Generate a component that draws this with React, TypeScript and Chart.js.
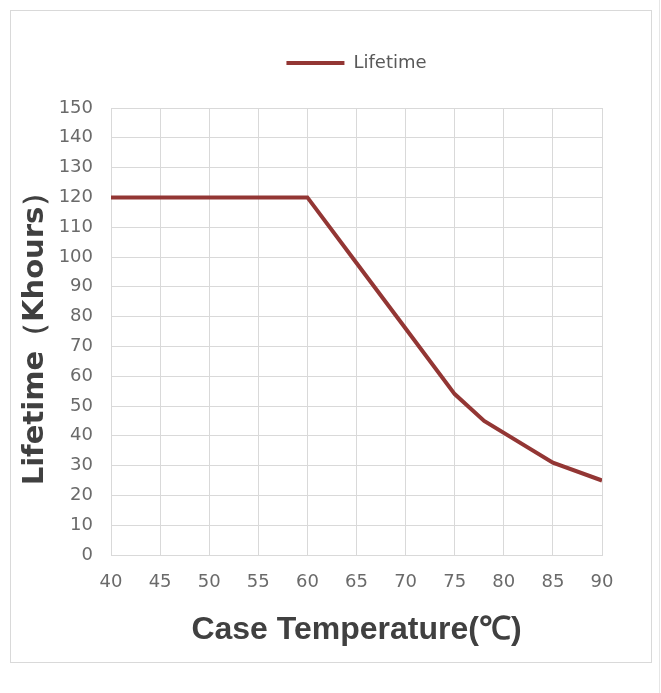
import React, { useEffect, useRef } from 'react';
import { Chart, registerables } from 'chart.js';

Chart.register(...registerables);

const temperatures = [40, 60, 65, 70, 75, 78, 85, 90];
const lifetimes = [120, 120, 98, 76, 54, 45, 31, 25];
const seriesName = 'Lifetime';
const xTitle = 'Case Temperature(℃)';
const yTitle = 'Lifetime（Khours）';
const xMin = 40;
const xMax = 90;
const xStep = 5;
const yMin = 0;
const yMax = 150;
const yStep = 10;

const LINE_COLOR = '#933634';
const GRID_COLOR = '#d9d9d9';
const TICK_COLOR = '#6a6a6a';
const TITLE_COLOR = '#404040';

export default function App() {
  const canvasRef = useRef<HTMLCanvasElement | null>(null);

  useEffect(() => {
    const canvas = canvasRef.current;
    if (!canvas) return;
    const chart = new Chart(canvas, {
      type: 'line',
      data: {
        datasets: [
          {
            label: seriesName,
            data: temperatures.map((t, i) => ({ x: t, y: lifetimes[i] })),
            borderColor: LINE_COLOR,
            backgroundColor: LINE_COLOR,
            borderWidth: 4,
            pointRadius: 0,
            tension: 0,
            fill: false,
          },
        ],
      },
      options: {
        responsive: false,
        animation: false,
        layout: { padding: { left: 0, right: 59, top: 44, bottom: 0 } },
        plugins: {
          tooltip: { enabled: false },
          legend: {
            display: true,
            position: 'top',
            fullSize: false,
            labels: {
              boxWidth: 58,
              boxHeight: 4,
              padding: 10,
              color: '#595959',
              font: { family: 'DejaVu Sans', size: 18 },
              generateLabels: () => [
                {
                  text: seriesName,
                  fillStyle: LINE_COLOR,
                  strokeStyle: LINE_COLOR,
                  lineWidth: 0,
                  hidden: false,
                  datasetIndex: 0,
                  fontColor: '#595959',
                } as any,
              ],
            },
          },
          title: {
            display: true,
            text: '',
            position: 'top',
            fullSize: false,
            weight: 500,
            font: { size: 10 },
            padding: { top: 14, bottom: 0 },
          } as any,
        },
        scales: {
          x: {
            type: 'linear',
            min: xMin,
            max: xMax,
            afterFit: (scale: any) => {
              scale.height = 138;
            },
            ticks: {
              stepSize: xStep,
              padding: 17,
              color: TICK_COLOR,
              font: { family: 'DejaVu Sans', size: 18 },
            },
            grid: { color: GRID_COLOR, drawTicks: false, lineWidth: 1 },
            border: { color: GRID_COLOR, width: 1 },
            title: {
              display: true,
              text: xTitle,
              color: TITLE_COLOR,
              font: { family: 'Liberation Sans', size: 32, weight: 'bold' },
              padding: { top: 0, bottom: 44 },
            },
          },
          y: {
            type: 'linear',
            min: yMin,
            max: yMax,
            afterFit: (scale: any) => {
              scale.width = 111;
            },
            ticks: {
              stepSize: yStep,
              padding: 18,
              color: TICK_COLOR,
              font: { family: 'DejaVu Sans', size: 18 },
            },
            grid: { color: GRID_COLOR, drawTicks: false, lineWidth: 1 },
            border: { color: GRID_COLOR, width: 1 },
            title: {
              display: true,
              text: yTitle,
              color: TITLE_COLOR,
              font: { family: 'DejaVu Sans', size: 29, weight: 'bold' },
              padding: { top: 18, bottom: 0 },
            },
          },
        },
      } as any,
    });
    return () => chart.destroy();
  }, []);

  return (
    <div style={{ position: 'absolute', left: 0, top: 0, width: 661, height: 693, background: '#ffffff' }}>
      <div
        style={{
          position: 'absolute',
          left: 10,
          top: 10,
          width: 642,
          height: 653,
          border: '1px solid #d9d9d9',
          boxSizing: 'border-box',
        }}
      />
      <div style={{ position: 'absolute', left: 659, top: 0, width: 1, height: 693, background: '#e6e6e6' }} />
      <canvas
        ref={canvasRef}
        width={661}
        height={693}
        style={{ position: 'absolute', left: 0, top: 0, width: 661, height: 693 }}
      />
    </div>
  );
}
